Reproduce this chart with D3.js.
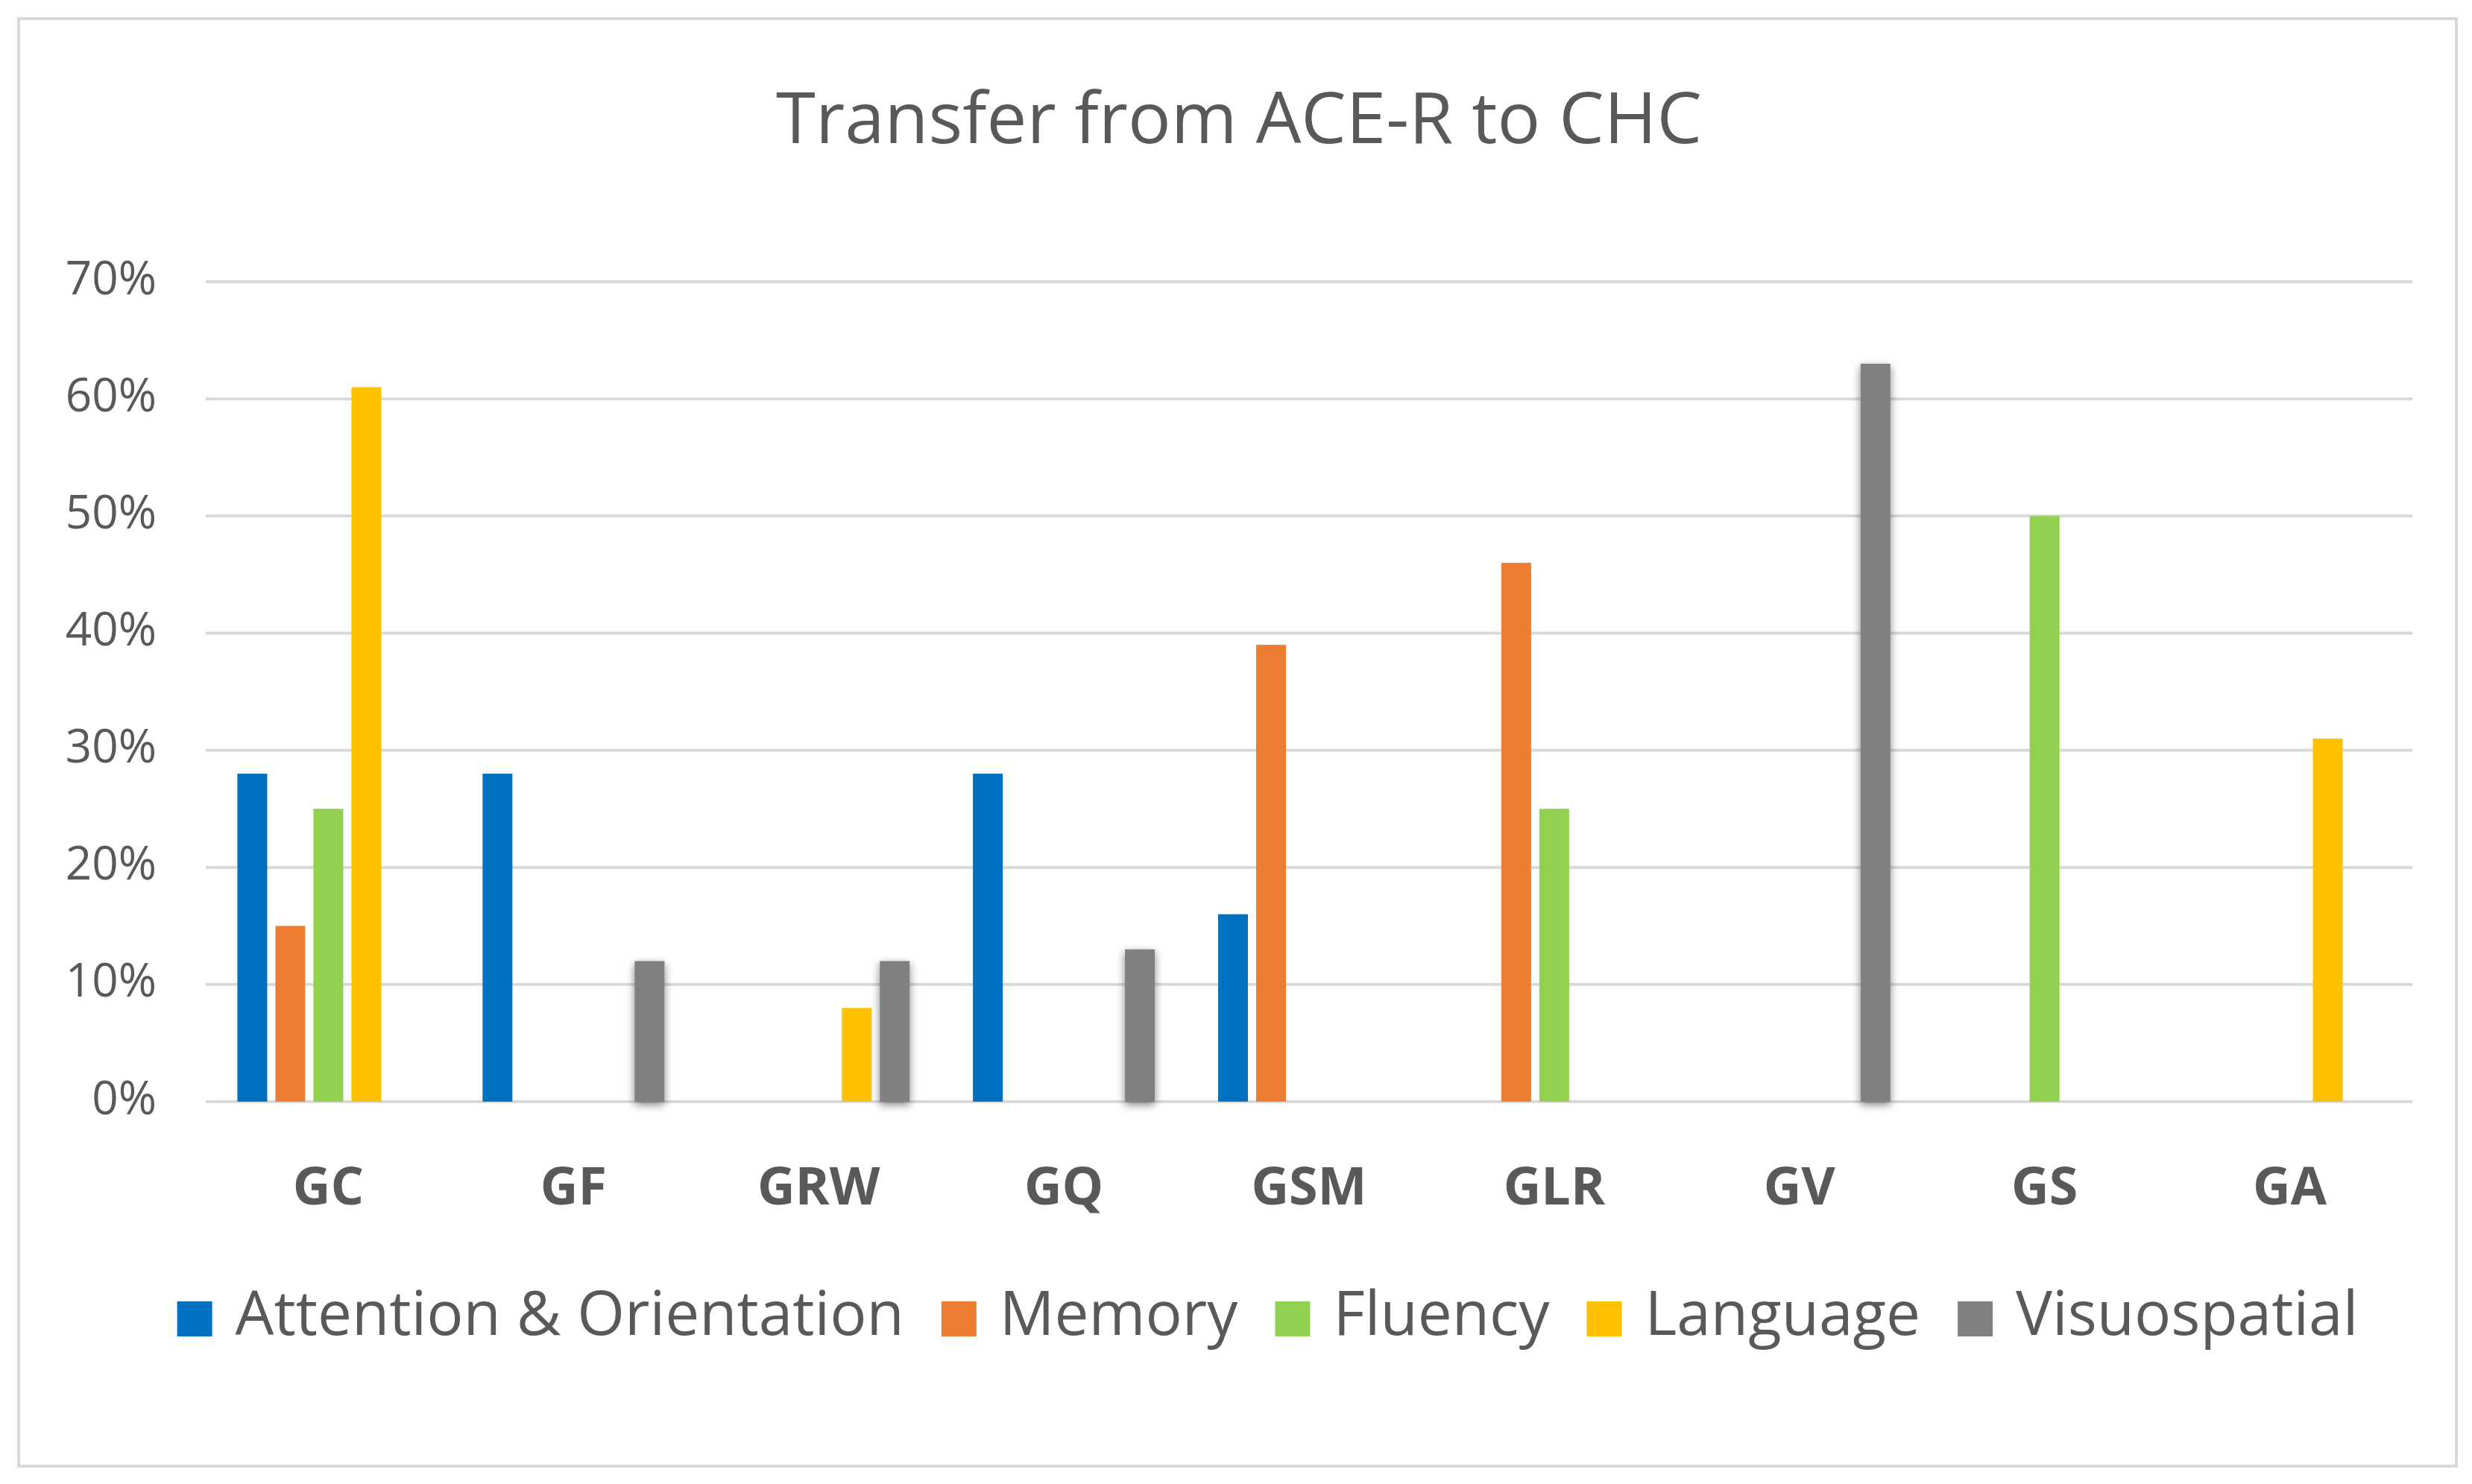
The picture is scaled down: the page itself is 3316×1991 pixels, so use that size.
<!DOCTYPE html>
<html>
<head>
<style>
  body {margin: 0; background: #fff;}
  * {font-family: "Open Sans", sans-serif;}
</style>
<script src="https://d3js.org/d3.v7.min.js"></script>
</head>
<body>
<div id="chart"></div>
<script>
const categories = ["GC", "GF", "GRW", "GQ", "GSM", "GLR", "GV", "GS", "GA"]
const series = ["Attention & Orientation", "Memory", "Fluency", "Language", "Visuospatial"]
const colors = ["#0070c0", "#ed7d31", "#92d050", "#ffc000", "#808080"]
// values in % per series, in category order
const attention  = [28, 28, 0, 28, 16, 0, 0, 0, 0]
const memory     = [15, 0, 0, 0, 39, 46, 0, 0, 0]
const fluency    = [25, 0, 0, 0, 0, 25, 0, 50, 0]
const language   = [61, 0, 8, 0, 0, 0, 0, 0, 31]
const visuo      = [0, 12, 12, 13, 0, 0, 63, 0, 0]
const yTicks = [0, 10, 20, 30, 40, 50, 60, 70]
const values = [attention, memory, fluency, language, visuo]

const W = 3316, H = 1991
const plotLeft = 276, plotRight = 3236, plotTop = 378, plotBottom = 1478

const svg = d3.select("#chart").append("svg").attr("width", W).attr("height", H)

svg.append("rect").attr("x", 25).attr("y", 25).attr("width", 3270).attr("height", 1942)
  .attr("fill", "#fff").attr("stroke", "#d9d9d9").attr("stroke-width", 4)

const defs = svg.append("defs")
const f = defs.append("filter").attr("id", "glow").attr("x", "-50%").attr("y", "-5%").attr("width", "200%").attr("height", "110%")
f.append("feGaussianBlur").attr("in", "SourceAlpha").attr("stdDeviation", 6).attr("result", "b")
f.append("feOffset").attr("in", "b").attr("dx", 0).attr("dy", 4).attr("result", "o")
f.append("feComponentTransfer").attr("in", "o").attr("result", "s")
  .append("feFuncA").attr("type", "linear").attr("slope", 0.5)
const m = f.append("feMerge")
m.append("feMergeNode").attr("in", "s")
m.append("feMergeNode").attr("in", "SourceGraphic")

svg.append("text").attr("x", 1662).attr("y", 166).attr("text-anchor", "middle")
  .attr("dominant-baseline", "middle").attr("font-size", 96).attr("fill", "#595959")
  .text("Transfer from ACE-R to CHC")

const x = d3.scaleBand().domain(categories).range([plotLeft, plotRight])
const y = d3.scaleLinear().domain([0, 70]).range([plotBottom, plotTop])
const step = 51, bw = 40

svg.append("g").selectAll("line").data(yTicks).join("line")
  .attr("x1", plotLeft).attr("x2", plotRight).attr("y1", d => y(d)).attr("y2", d => y(d))
  .attr("stroke", "#d9d9d9").attr("stroke-width", 4)

svg.append("g").selectAll("text").data(yTicks).join("text")
  .attr("x", 210).attr("y", d => y(d)).attr("text-anchor", "end")
  .attr("dominant-baseline", "middle").attr("font-size", 62).attr("fill", "#595959")
  .text(d => d + "%")

series.forEach((s, si) => {
  svg.append("g").attr("filter", si === 4 ? "url(#glow)" : null)
    .selectAll("rect").data(values[si].map((v, i) => ({v, c: categories[i]})).filter(d => d.v > 0))
    .join("rect")
    .attr("x", d => x(d.c) + x.bandwidth() / 2 + (si - 2) * step - bw / 2)
    .attr("y", d => y(d.v)).attr("width", bw).attr("height", d => plotBottom - y(d.v))
    .attr("fill", colors[si])
})

svg.append("g").selectAll("text").data(categories).join("text")
  .attr("x", d => x(d) + x.bandwidth() / 2).attr("y", 1597).attr("text-anchor", "middle")
  .attr("dominant-baseline", "middle").attr("font-size", 70).attr("font-weight", "bold")
  .attr("fill", "#595959").text(d => d)

// legend, laid out by measured text widths and centred
const lg = svg.append("g")
let cx = 0
series.forEach((s, i) => {
  const g = lg.append("g").attr("transform", `translate(${cx},0)`)
  g.append("rect").attr("x", 0).attr("y", -23).attr("width", 47).attr("height", 47).attr("fill", colors[i])
  const t = g.append("text").attr("x", 78).attr("y", 0).attr("dominant-baseline", "middle")
    .attr("font-size", 82).attr("fill", "#595959").text(s)
  cx += 78 + t.node().getComputedTextLength() + 50
})
const lw = cx - 50
lg.attr("transform", `translate(${(155 + 3246) / 2 - lw / 2},1769)`)
</script>
</body>
</html>
